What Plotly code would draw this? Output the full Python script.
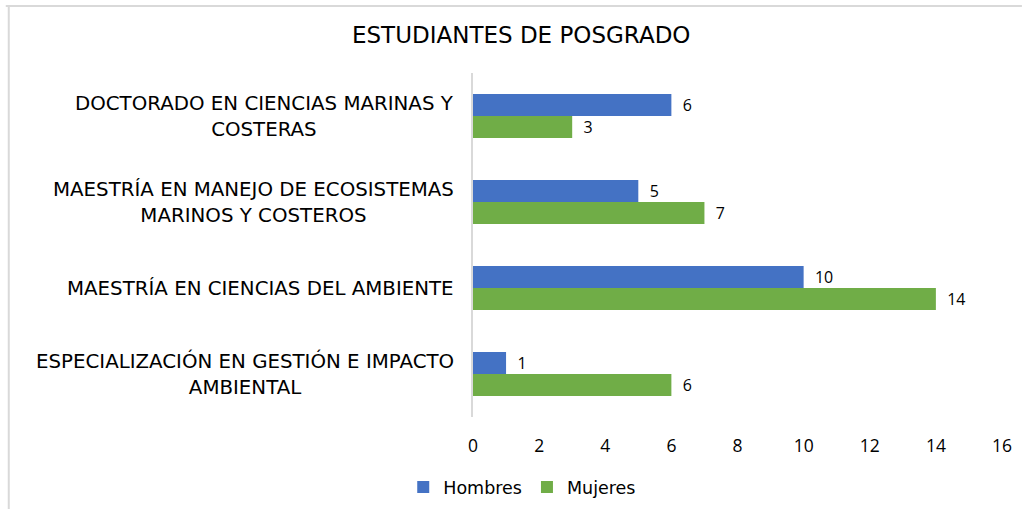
import plotly.graph_objects as go

categories = [
    "DOCTORADO EN CIENCIAS MARINAS Y<br>COSTERAS",
    "MAESTRÍA EN MANEJO DE ECOSISTEMAS<br>MARINOS Y COSTEROS",
    "MAESTRÍA EN CIENCIAS DEL AMBIENTE",
    "ESPECIALIZACIÓN EN GESTIÓN E IMPACTO<br>AMBIENTAL",
]
hombres = [6, 5, 10, 1]
mujeres = [3, 7, 14, 6]
x_ticks = [0, 2, 4, 6, 8, 10, 12, 14, 16]

FONT = "Open Sans"
WFONT = "DejaVu Sans"
W, H = 1024, 509
L, R, T, B = 473, 20, 73, 92

fig = go.Figure()
fig.add_trace(go.Bar(
    y=list(range(len(categories))), x=hombres, name="Hombres", orientation="h",
    marker=dict(color="#4472C4", line=dict(width=0)),
    text=hombres, texttemplate="  %{x}", textposition="outside",
    textfont=dict(size=17.5, color="#000", family=FONT), cliponaxis=False,
))
fig.add_trace(go.Bar(
    y=list(range(len(categories))), x=mujeres, name="Mujeres", orientation="h",
    marker=dict(color="#70AD47", line=dict(width=0)),
    text=mujeres, texttemplate="  %{x}", textposition="outside",
    textfont=dict(size=17.5, color="#000", family=FONT), cliponaxis=False,
))

for i, c in enumerate(categories):
    fig.add_annotation(
        x=0, xref="paper", xshift=-17, xanchor="right",
        y=i, yref="y", yanchor="middle",
        text=c, align="center", showarrow=False,
        font=dict(size=19.8, color="#000", family=WFONT),
    )

pw = W - L - R
ph = H - T - B
# frame lines (top and left)
fig.add_shape(type="line", xref="paper", yref="paper",
              x0=(4 - L) / pw, x1=(W - L) / pw, y0=(H - B - 6) / ph, y1=(H - B - 6) / ph,
              line=dict(color="#d9d9d9", width=2))
fig.add_shape(type="line", xref="paper", yref="paper",
              x0=(7 - L) / pw, x1=(7 - L) / pw, y0=(H - B - 6) / ph, y1=(H - B - H) / ph,
              line=dict(color="#d9d9d9", width=2))

fig.update_layout(
    width=W, height=H,
    margin=dict(l=L, r=R, t=T, b=B),
    paper_bgcolor="white", plot_bgcolor="white",
    barmode="group", bargap=0.49, bargroupgap=0,
    title=dict(text="ESTUDIANTES DE POSGRADO", x=0.509, xref="container", xanchor="center",
               y=1 - 35 / H, yref="container", yanchor="middle",
               font=dict(size=23, color="#000", family=WFONT)),
    showlegend=True,
    legend=dict(orientation="h", x=0.51, xref="container", xanchor="center",
                y=1 - 487 / H, yref="container", yanchor="middle",
                font=dict(size=17.5, color="#000", family=WFONT),
                itemwidth=30, traceorder="normal"),
    xaxis=dict(range=[0, 16], tickvals=x_ticks, showgrid=False, zeroline=False,
               showline=False, ticks="", ticklabelstandoff=16,
               tickfont=dict(size=17.5, color="#000", family=FONT)),
    yaxis=dict(range=[3.5, -0.5], showticklabels=False, showgrid=False, zeroline=False,
               showline=True, linecolor="#d9d9d9", linewidth=2, ticks=""),
)

fig.write_html("out.html", config={"displayModeBar": False},
               post_script="document.body.style.margin='0';document.body.style.overflow='hidden';")
